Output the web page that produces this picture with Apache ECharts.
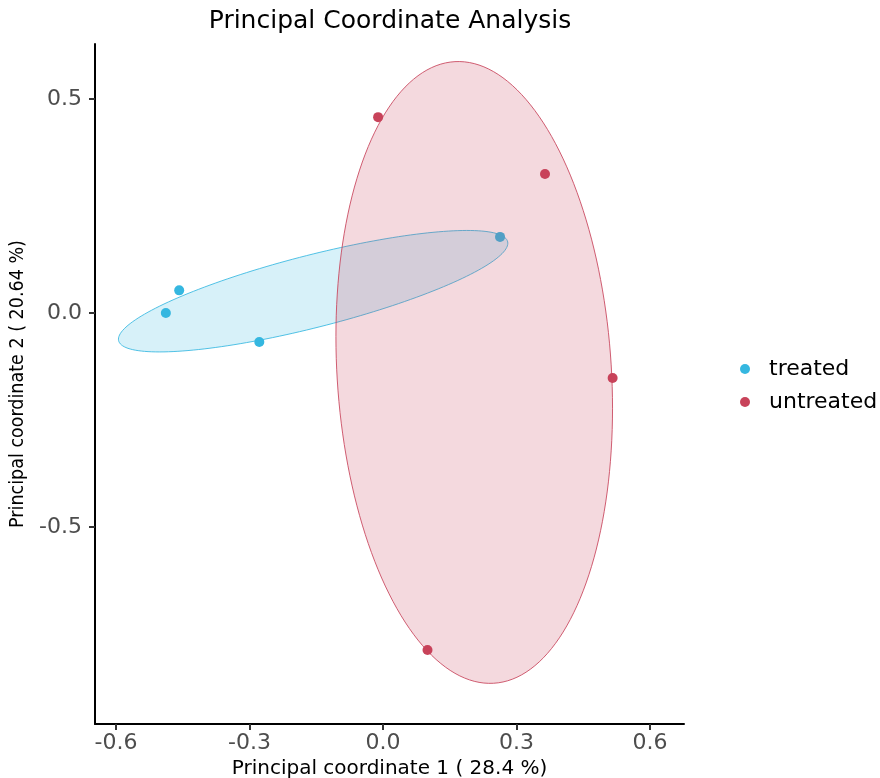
<!DOCTYPE html>
<html>
<head>
<meta charset="utf-8">
<script src="https://cdn.jsdelivr.net/npm/echarts@6/dist/echarts.min.js"></script>
<style>
html,body{margin:0;padding:0;background:#fff;}
#chart{width:880px;height:778px;}
</style>
</head>
<body>
<div id="chart"></div>
<script>
// ---- data ----
const groups = ['treated', 'untreated'];
const colors = ['#35b7e0', '#c8435a'];
const treatedPoints = [[-0.458, 0.053], [-0.488, 0.000], [-0.278, -0.068], [0.263, 0.178]];
const untreatedPoints = [[-0.011, 0.458], [0.364, 0.325], [0.516, -0.152], [0.100, -0.788]];
// ellipse: [centerX, centerY, halfWidthX, halfHeightY, correlation]
const treatedEllipse = [-0.157, 0.051, 0.4375, 0.142, 0.79];
const untreatedEllipse = [0.205, -0.139, 0.3108, 0.727, -0.115];
const xTicks = [-0.6, -0.3, 0.0, 0.3, 0.6];
const yTicks = [-0.5, 0.0, 0.5];
const xRange = [-0.6472, 0.6764];
const yRange = [-0.961, 0.629];
const titleText = 'Principal Coordinate Analysis';
const xName = 'Principal coordinate 1 ( 28.4 %)';
const yName = 'Principal coordinate 2 ( 20.64 %)';

const chart = echarts.init(document.getElementById('chart'), null, {renderer: 'canvas'});

function ellipseRender(fill, stroke) {
  return function (params, api) {
    const cx = api.value(0), cy = api.value(1), sx = api.value(2), sy = api.value(3), r = api.value(4);
    const pts = [];
    const N = 180;
    const q = Math.sqrt(1 - r * r);
    for (let k = 0; k < N; k++) {
      const t = 2 * Math.PI * k / N;
      const x = cx + sx * Math.cos(t);
      const y = cy + sy * (r * Math.cos(t) + q * Math.sin(t));
      pts.push(api.coord([x, y]));
    }
    return {
      type: 'polygon',
      shape: {points: pts},
      style: {fill: fill, stroke: stroke, lineWidth: 1}
    };
  };
}

const font = 'DejaVu Sans';

chart.setOption({
  animation: false,
  backgroundColor: '#ffffff',
  title: {
    text: titleText,
    left: 385,
    textAlign: 'center',
    top: 4,
    textStyle: {fontFamily: font, fontSize: 25, fontWeight: 'normal', color: '#000'}
  },
  legend: {
    orient: 'vertical',
    left: 735,
    top: 353,
    itemWidth: 10,
    itemHeight: 10,
    itemGap: 11,
    icon: 'circle',
    data: groups,
    textStyle: {fontFamily: font, fontSize: 22, color: '#000', lineHeight: 21, padding: [0, 0, 0, 14]}
  },
  grid: {left: 95, right: 196, top: 44, bottom: 54, containLabel: false, outerBoundsMode: 'none'},
  xAxis: {
    type: 'value',
    min: xRange[0], max: xRange[1],
    splitLine: {show: false},
    axisLine: {onZero: false, lineStyle: {color: '#000', width: 2}},
    axisTick: {show: true, length: 6, lineStyle: {color: '#333', width: 2}, customValues: xTicks},
    axisLabel: {customValues: xTicks, formatter: v => v.toFixed(1), color: '#4d4d4d', fontFamily: font, fontSize: 22, margin: 8},
    name: xName,
    nameLocation: 'middle',
    nameGap: 34,
    nameTextStyle: {fontFamily: font, fontSize: 20, color: '#000', verticalAlign: 'top'}
  },
  yAxis: {
    type: 'value',
    min: yRange[0], max: yRange[1],
    splitLine: {show: false},
    axisLine: {onZero: false, lineStyle: {color: '#000', width: 2}},
    axisTick: {show: true, length: 6, lineStyle: {color: '#333', width: 2}, customValues: yTicks},
    axisLabel: {customValues: yTicks, formatter: v => v.toFixed(1), color: '#4d4d4d', fontFamily: font, fontSize: 22, margin: 13},
    name: yName,
    nameLocation: 'middle',
    nameGap: 64,
    nameRotate: 90,
    nameTextStyle: {fontFamily: 'DejaVu Sans Condensed, DejaVu Sans', fontSize: 19.5, color: '#000'}
  },
  series: [
    {
      name: groups[0], type: 'scatter', data: treatedPoints, symbolSize: 10,
      itemStyle: {color: colors[0], opacity: 1}, z: 1
    },
    {
      name: groups[1], type: 'scatter', data: untreatedPoints, symbolSize: 10,
      itemStyle: {color: colors[1], opacity: 1}, z: 1
    },
    {
      name: groups[0] + ' ellipse', type: 'custom', data: [treatedEllipse],
      renderItem: ellipseRender('rgba(53,183,224,0.2)', 'rgba(53,183,224,0.85)'),
      encode: {x: 0, y: 1}, z: 2, silent: true
    },
    {
      name: groups[1] + ' ellipse', type: 'custom', data: [untreatedEllipse],
      renderItem: ellipseRender('rgba(200,67,90,0.2)', 'rgba(200,67,90,0.85)'),
      encode: {x: 0, y: 1}, z: 3, silent: true
    }
  ]
});
</script>
</body>
</html>
